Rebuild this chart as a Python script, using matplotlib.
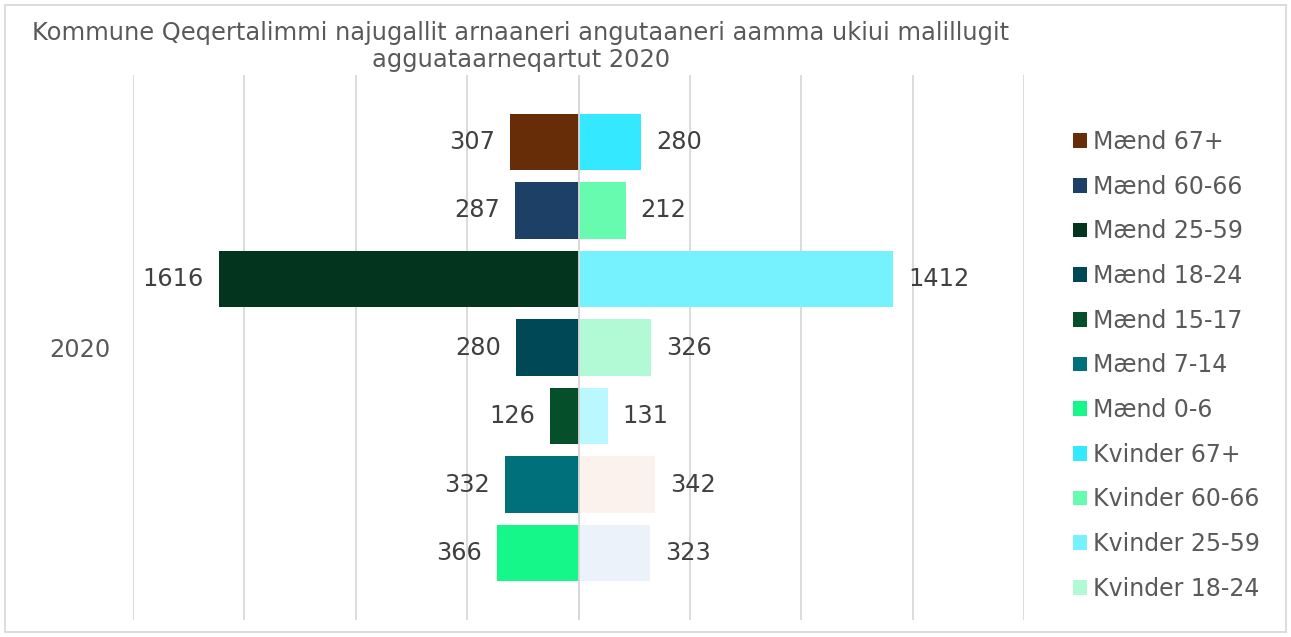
import matplotlib
matplotlib.use("Agg")
import matplotlib.pyplot as plt
from matplotlib.patches import Rectangle, Patch

age_groups = ["67+", "60-66", "25-59", "18-24", "15-17", "7-14", "0-6"]
men = [307, 287, 1616, 280, 126, 332, 366]
women = [280, 212, 1412, 326, 131, 342, 323]
men_colors = ["#672D09", "#1C4066", "#02341E", "#014856", "#054F2A", "#00707A", "#16F78A"]
women_colors = ["#33E8FF", "#66FBAE", "#76F2FF", "#B2FAD6", "#BAF7FF", "#FBF2EE", "#EBF2FA"]
category = "2020"
title = "Kommune Qeqertalimmi najugallit arnaaneri angutaaneri aamma ukiui malillugit\nagguataarneqartut 2020"
x_ticks = [-2000, -1500, -1000, -500, 0, 500, 1000, 1500, 2000]

W, H = 1291, 637
fig = plt.figure(figsize=(W / 100, H / 100), dpi=100)
plt.rcParams['font.family'] = ['DejaVu Sans']

ax = fig.add_axes([133 / W, 1 - 620 / H, (1024 - 133) / W, (620 - 75) / H])
ypos = list(range(len(age_groups)))
bh = 0.82
ax.barh(ypos, [-v for v in men], height=bh, color=men_colors, zorder=2)
ax.barh(ypos, women, height=bh, color=women_colors, zorder=2)

fs = 17.3
for y, v in zip(ypos, men):
    ax.annotate(str(v), (-v, y), xytext=(-10.8, 0), textcoords="offset points",
                ha="right", va="center", fontsize=fs, color="#404040")
for y, v in zip(ypos, women):
    ax.annotate(str(v), (v, y), xytext=(10.8, 0), textcoords="offset points",
                ha="left", va="center", fontsize=fs, color="#404040")

ax.set_xlim(-2000, 2000)
ax.set_ylim(6 + 0.978, -0.978)
ax.set_xticks(x_ticks)
ax.set_xticklabels([])
ax.tick_params(axis="x", length=0)
ax.grid(axis="x", color="#D9D9D9", lw=1.3, zorder=0)
ax.axvline(0, color="#D9D9D9", lw=1.3, zorder=3)
ax.set_yticks([3])
ax.set_yticklabels([category], fontsize=fs, color="#595959")
ax.tick_params(axis="y", length=0, pad=16)
for s in ax.spines.values():
    s.set_visible(False)

fig.text(521 / W, 1 - 46.5 / H, title, ha="center", va="center", fontsize=17.4,
         color="#595959", linespacing=1.13)

labels = ["Mænd " + a for a in age_groups] + ["Kvinder " + a for a in age_groups]
colors = men_colors + women_colors
handles = [Patch(facecolor=c, edgecolor="none") for c in colors[:11]]
leg = fig.legend(handles, labels[:11], loc="upper left",
                 bbox_to_anchor=(1073 / W, 1 - 130 / H), frameon=False,
                 fontsize=17, labelcolor="#595959", handlelength=0.59,
                 handleheight=0.59, handletextpad=0.25, labelspacing=0.875,
                 borderaxespad=0, borderpad=0)

fig.patches.append(Rectangle((5 / W, 5 / H), (W - 10) / W, (H - 10) / H,
                             transform=fig.transFigure, fill=False,
                             edgecolor="#D9D9D9", lw=1.3))
fig.savefig("out.png", dpi=100)
